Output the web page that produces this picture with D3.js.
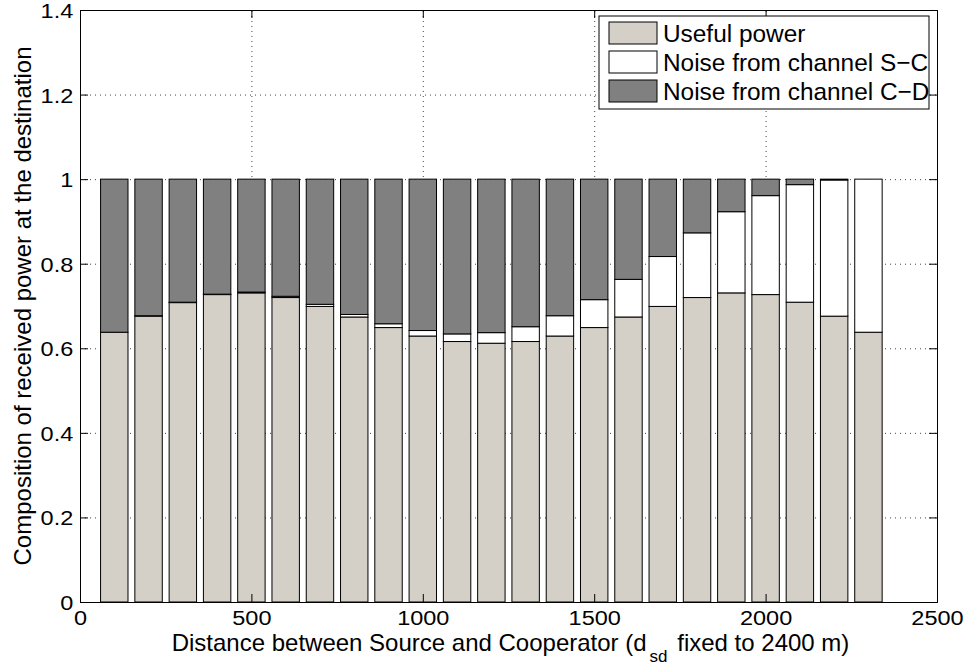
<!DOCTYPE html>
<html>
<head>
<meta charset="utf-8">
<script src="https://cdn.jsdelivr.net/npm/d3@7"></script>
<style>
  html, body { margin: 0; padding: 0; background: #fff; }
  svg { display: block; }
  text { font-family: "Liberation Sans", Arial, Helvetica, sans-serif; fill: #000; }
</style>
</head>
<body>
<svg id="chart" width="969" height="668"></svg>
<script>
// Source–cooperator distances (m), one stacked bar each
const distances = [100, 200, 300, 400, 500, 600, 700, 800, 900, 1000, 1100, 1200,
                   1300, 1400, 1500, 1600, 1700, 1800, 1900, 2000, 2100, 2200, 2300];

// Fraction of received power that is useful signal
const usefulPower = [0.638, 0.676, 0.708, 0.727, 0.731, 0.720, 0.699, 0.674, 0.649, 0.629, 0.616, 0.612,
                     0.616, 0.629, 0.649, 0.674, 0.699, 0.720, 0.731, 0.727, 0.709, 0.676, 0.638];

// Fraction due to noise forwarded from the source–cooperator hop
const noiseSC = [0.000, 0.001, 0.001, 0.001, 0.002, 0.003, 0.005, 0.006, 0.009, 0.013, 0.018, 0.025,
                 0.035, 0.048, 0.066, 0.089, 0.118, 0.153, 0.192, 0.234, 0.278, 0.322, 0.362];

// Fraction due to noise on the cooperator–destination hop
const noiseCD = [0.362, 0.323, 0.291, 0.272, 0.267, 0.277, 0.296, 0.320, 0.342, 0.358, 0.366, 0.363,
                 0.349, 0.323, 0.285, 0.237, 0.183, 0.127, 0.077, 0.039, 0.013, 0.002, 0.000];

const seriesNames = ["Useful power", "Noise from channel S\u2212C", "Noise from channel C\u2212D"];
const seriesColors = ["#d4d0c8", "#ffffff", "#808080"];

const xTicks = [0, 500, 1000, 1500, 2000, 2500];
const yTicks = [0, 0.2, 0.4, 0.6, 0.8, 1.0, 1.2, 1.4];

const margin = { left: 80, right: 32, top: 10, bottom: 66 };
const W = 969, H = 668;
const pw = W - margin.left - margin.right;
const ph = H - margin.top - margin.bottom;

const svg = d3.select("#chart");
const g = svg.append("g").attr("transform", `translate(${margin.left},${margin.top})`);

const x = d3.scaleLinear().domain([0, 2500]).range([0, pw]);
const y = d3.scaleLinear().domain([0, 1.4]).range([ph, 0]);

// Dotted grid underneath the bars
g.append("g")
  .attr("transform", `translate(0,${ph})`)
  .call(d3.axisBottom(x).tickValues(xTicks).tickSize(-ph).tickFormat(""))
  .call(a => a.select(".domain").remove())
  .selectAll("line").attr("stroke", "#444").attr("stroke-dasharray", "1,4");
g.append("g")
  .call(d3.axisLeft(y).tickValues(yTicks).tickSize(-pw).tickFormat(""))
  .call(a => a.select(".domain").remove())
  .selectAll("line").attr("stroke", "#444").attr("stroke-dasharray", "1,4");

// Stacked bars
const table = distances.map((d, i) => ({ d, useful: usefulPower[i], sc: noiseSC[i], cd: noiseCD[i] }));
const stack = d3.stack().keys(["useful", "sc", "cd"])(table);
const barHalf = 40; // bar width = 0.8 of the 100 m spacing

stack.forEach((layer, li) => {
  g.append("g")
    .selectAll("rect")
    .data(layer)
    .join("rect")
    .attr("x", p => x(p.data.d - barHalf))
    .attr("width", p => x(p.data.d + barHalf) - x(p.data.d - barHalf))
    .attr("y", p => y(p[1]))
    .attr("height", p => y(p[0]) - y(p[1]))
    .attr("fill", seriesColors[li])
    .attr("stroke", "#000")
    .attr("stroke-width", 1);
});

// Axes with inward ticks on all four sides
const tickLen = 8;
const sx = 1.12;
const xAxis = g.append("g")
  .attr("transform", `translate(0,${ph})`)
  .call(d3.axisBottom(x).tickValues(xTicks).tickSize(-tickLen).tickPadding(8).tickFormat(d3.format("d")));
xAxis.selectAll("text").attr("font-size", 21).attr("transform", `scale(${sx},1)`);

const yAxis = g.append("g")
  .call(d3.axisLeft(y).tickValues(yTicks).tickSize(-tickLen).tickPadding(6)
        .tickFormat(d => d === 0 ? "0" : (d === 1 ? "1" : d3.format(".1f")(d))));
yAxis.selectAll("text").attr("font-size", 21).attr("dy", "0.36em")
  .attr("transform", `scale(${sx},1)`);

g.append("g")
  .call(d3.axisTop(x).tickValues(xTicks).tickSize(-tickLen).tickFormat(""));
g.append("g")
  .attr("transform", `translate(${pw},0)`)
  .call(d3.axisRight(y).tickValues(yTicks).tickSize(-tickLen).tickFormat(""));

g.selectAll(".domain").attr("stroke", "#000").attr("stroke-width", 1);
g.selectAll(".tick line").filter(function () { return !this.getAttribute("stroke-dasharray"); })
  .attr("stroke", "#000");

// Axis titles
svg.append("text")
  .attr("transform", `translate(31,${margin.top + ph / 2}) rotate(-90)`)
  .attr("text-anchor", "middle")
  .attr("font-size", 24)
  .text("Composition of received power at the destination");

const xt = svg.append("text")
  .attr("x", margin.left + pw / 2 + 2)
  .attr("y", 651)
  .attr("text-anchor", "middle")
  .attr("font-size", 24);
xt.append("tspan").text("Distance between Source and Cooperator (d");
xt.append("tspan").attr("font-size", 17).attr("dy", 11).attr("dx", 3).text("sd");
xt.append("tspan").attr("dy", -11).attr("dx", 3).text(" fixed to 2400 m)");

// Legend
const leg = svg.append("g").attr("transform", "translate(599,16)");
leg.append("rect").attr("width", 330).attr("height", 93)
  .attr("fill", "#fff").attr("stroke", "#000").attr("stroke-width", 1);
seriesNames.forEach((name, i) => {
  const row = leg.append("g").attr("transform", `translate(0,${6 + i * 29})`);
  row.append("rect").attr("x", 10).attr("y", 0).attr("width", 48).attr("height", 22)
    .attr("fill", seriesColors[i]).attr("stroke", "#000").attr("stroke-width", 1);
  row.append("text").attr("x", 64).attr("y", 19.5).attr("font-size", 24.4).text(name);
});
</script>
</body>
</html>
